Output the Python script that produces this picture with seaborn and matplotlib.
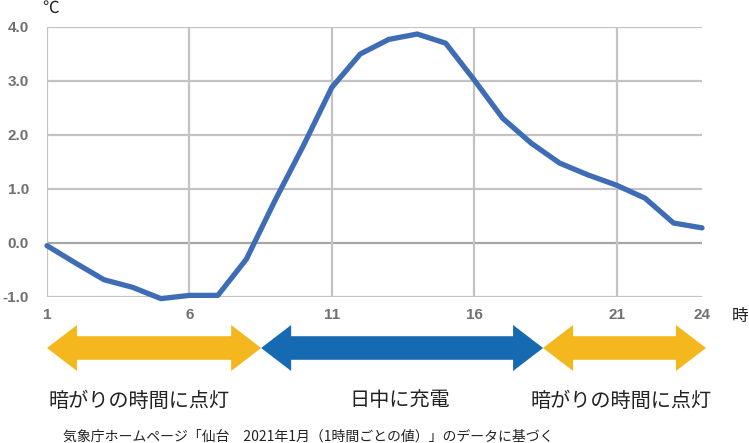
import matplotlib
matplotlib.use("Agg")
import matplotlib.pyplot as plt
import seaborn as sns
import pandas as pd
from matplotlib.patches import Polygon
from matplotlib.transforms import blended_transform_factory

# ---- data ----
hours = list(range(1, 25))
temps = [-0.05, -0.37, -0.68, -0.82, -1.03, -0.97, -0.97, -0.30, 0.78, 1.80,
         2.88, 3.50, 3.77, 3.87, 3.70, 3.02, 2.31, 1.85, 1.48, 1.26,
         1.07, 0.83, 0.37, 0.28]
x_ticks = [1, 6, 11, 16, 21, 24]
x_grid = [1, 6, 11, 16, 21]
y_ticks = [-1.0, 0.0, 1.0, 2.0, 3.0, 4.0]
y_labels = ["-1.0", "0.0", "1.0", "2.0", "3.0", "4.0"]
# periods (start hour, end hour, colour key)
periods = [(1.0, 8.52, "night"), (8.52, 18.42, "day"), (18.42, 24.14, "night")]
period_labels = ["暗がりの時間に点灯", "日中に充電", "暗がりの時間に点灯"]
source_text = "気象庁ホームページ「仙台　2021年1月（1時間ごとの値）」のデータに基づく"

sns.set_theme(style="white")
plt.rcParams['font.family'] = ['Noto Sans CJK JP', 'DejaVu Sans']

W, H = 749, 443
fig = plt.figure(figsize=(W / 100, H / 100), dpi=100)
ax = fig.add_axes([47 / W, 1 - 297 / H, 655 / W, 270 / H])

df = pd.DataFrame({"hour": hours, "temp": temps})

# grid
for yv in y_ticks:
    ax.axhline(yv, color="#a6a6a6" if yv == 0 else "#c3c3c3", lw=1.6, zorder=1)
for xv in x_grid:
    ax.axvline(xv, color="#c3c3c3", lw=1.6, zorder=1)

sns.lineplot(data=df, x="hour", y="temp", ax=ax, color="#3f6db5", linewidth=3.8,
             zorder=3)
for ln in ax.lines[-1:]:
    ln.set_clip_on(False)
    ln.set_solid_capstyle("round")
    ln.set_solid_joinstyle("round")

ax.set_xlim(1, 24)
ax.set_ylim(-1, 4)
ax.set_xticks(x_ticks)
ax.set_xticklabels([str(v) for v in x_ticks])
ax.set_yticks(y_ticks)
ax.set_yticklabels(y_labels)
ax.set_xlabel("")
ax.set_ylabel("")
for s in ax.spines.values():
    s.set_visible(False)
ax.tick_params(axis="both", length=0, colors="#707070")
ax.tick_params(axis="y", pad=13)
ax.tick_params(axis="x", pad=8)
for lab in ax.get_xticklabels() + ax.get_yticklabels():
    lab.set_fontfamily("Liberation Sans")
    lab.set_fontweight("bold")
    lab.set_fontsize(11)
    lab.set_color("#707070")

fig.text(42 / W, 1 - 8 / H, "℃", fontsize=12, color="#222222",
         ha="left", va="center")
fig.text(740 / W, 1 - 316 / H, "時", fontsize=12, color="#222222",
         ha="center", va="center")

# arrows (x in hours, y in figure fraction)
tr = blended_transform_factory(ax.transData, fig.transFigure)
colors = {"night": "#f4b81e", "day": "#166ab1"}
yc = 1 - 348 / H
hh = 23 / H
sh = 11.8 / H
head = 30 / (655 / 23)
for (a, b, key) in periods:
    pts = [(a, yc), (a + head, yc + hh), (a + head, yc + sh), (b - head, yc + sh),
           (b - head, yc + hh), (b, yc), (b - head, yc - hh), (b - head, yc - sh),
           (a + head, yc - sh), (a + head, yc - hh)]
    poly = Polygon(pts, closed=True, transform=tr, facecolor=colors[key],
                   edgecolor="none", clip_on=False, zorder=2)
    fig.add_artist(poly)

ty = 1 - 401 / H
fig.text(49 / W, ty, period_labels[0], fontsize=14.5, color="#222222",
         ha="left", va="center")
fig.text(400 / W, ty, period_labels[1], fontsize=14.5, color="#222222",
         ha="center", va="center")
fig.text(712 / W, ty, period_labels[2], fontsize=14.5, color="#222222",
         ha="right", va="center")

fig.text(63 / W, 1 - 437 / H, source_text, fontsize=10, color="#222222",
         ha="left", va="center")

fig.savefig("out.png", dpi=100)
